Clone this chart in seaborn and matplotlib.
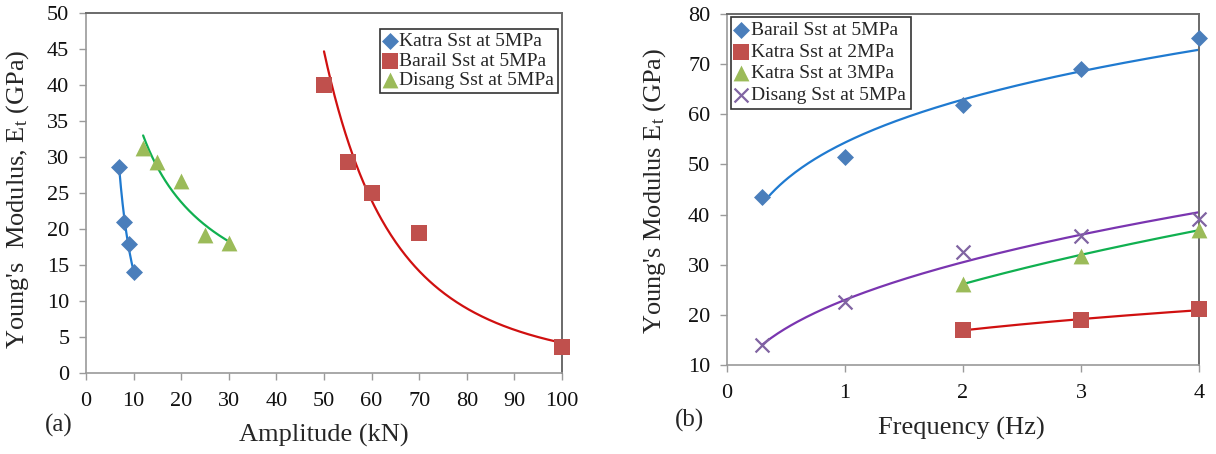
import numpy as np
import pandas as pd
import matplotlib
matplotlib.use("Agg")
import matplotlib.pyplot as plt
import seaborn as sns

# ---------------- data: panel (a) ----------------
katra5_amp = [7, 8, 9, 10]
katra5_E = [28.6, 21.0, 17.9, 14.0]
barail5_amp = [50, 55, 60, 70, 100]
barail5_E = [40.0, 29.3, 25.0, 19.4, 3.6]
disang5_amp = [12, 15, 20, 25, 30]
disang5_E = [31.2, 29.3, 26.6, 19.2, 18.0]

# ---------------- data: panel (b) ----------------
barail5_freq = [0.3, 1, 2, 3, 4]
barail5_Eb = [43.6, 51.4, 61.9, 69.0, 75.3]
katra2_freq = [2, 3, 4]
katra2_E = [17.0, 18.9, 21.1]
katra3_freq = [2, 3, 4]
katra3_E = [26.2, 31.8, 37.0]
disang5_freq = [0.3, 1, 2, 3, 4]
disang5_Eb = [14.0, 22.5, 32.5, 35.8, 39.2]

xticks_a = list(range(0, 101, 10))
yticks_a = list(range(0, 51, 5))
xticks_b = [0, 1, 2, 3, 4]
yticks_b = list(range(10, 81, 10))

sns.set_theme(style="white")
plt.rcParams["font.family"] = ["Liberation Serif", "DejaVu Serif"]
plt.rcParams["mathtext.fontset"] = "custom"
plt.rcParams["mathtext.rm"] = "Liberation Serif"
plt.rcParams["mathtext.it"] = "Liberation Serif:italic"

MK_BLUE = "#4a7ebb"
MK_RED = "#c0504d"
MK_GREEN = "#9bbb59"
MK_PURPLE = "#8064a2"
LN_BLUE = "#1f7ad0"
LN_RED = "#d01010"
LN_GREEN = "#10b050"
LN_PURPLE = "#7a35b0"


def power_trend(x, y, n=200):
    x = np.asarray(x, float)
    y = np.asarray(y, float)
    b, lna = np.polyfit(np.log(x), np.log(y), 1)
    xs = np.linspace(x.min(), x.max(), n)
    return pd.DataFrame({"x": xs, "y": np.exp(lna) * xs ** b})


fig = plt.figure(figsize=(12.16, 4.54), dpi=100)
axA = fig.add_axes([86 / 1216, 1 - 373 / 454, 476 / 1216, 360 / 454])
axB = fig.add_axes([727 / 1216, 1 - 365 / 454, 472 / 1216, 351 / 454])

# ---- panel (a) ----
for xs, ys, lc in [(katra5_amp, katra5_E, LN_BLUE),
                   (barail5_amp, barail5_E, LN_RED),
                   (disang5_amp, disang5_E, LN_GREEN)]:
    d = power_trend(xs, ys)
    sns.lineplot(data=d, x="x", y="y", ax=axA, color=lc, lw=1.6, legend=False, zorder=2)

sns.scatterplot(x=katra5_amp, y=katra5_E, ax=axA, marker="D", s=75, color=MK_BLUE,
                edgecolor=MK_BLUE, linewidth=0, label="Katra Sst at 5MPa", zorder=3, clip_on=False)
sns.scatterplot(x=barail5_amp, y=barail5_E, ax=axA, marker="s", s=120, color=MK_RED,
                edgecolor=MK_RED, linewidth=0, label="Barail Sst at 5MPa", zorder=3, clip_on=False)
sns.scatterplot(x=disang5_amp, y=disang5_E, ax=axA, marker="^", s=130, color=MK_GREEN,
                edgecolor=MK_GREEN, linewidth=0, label="Disang Sst at 5MPa", zorder=3, clip_on=False)

axA.set_xlim(0, 100)
axA.set_ylim(0, 50)
axA.set_xticks(xticks_a)
axA.set_yticks(yticks_a)
axA.set_xlabel("Amplitude (kN)", fontsize=19)
axA.set_ylabel("Young's  Modulus, E$_\\mathrm{t}$ (GPa)", fontsize=19)
axA.xaxis.label.set_va("center")
axA.yaxis.label.set_va("center")
axA.xaxis.set_label_coords(0.5, -(435 - 373) / 360)
axA.yaxis.set_label_coords((18 - 86) / 476, 1 - (199 - 13) / 360)

# ---- panel (b) ----
for xs, ys, lc in [(barail5_freq, barail5_Eb, LN_BLUE),
                   (katra2_freq, katra2_E, LN_RED),
                   (katra3_freq, katra3_E, LN_GREEN),
                   (disang5_freq, disang5_Eb, LN_PURPLE)]:
    d = power_trend(xs, ys)
    sns.lineplot(data=d, x="x", y="y", ax=axB, color=lc, lw=1.6, legend=False, zorder=2)

sns.scatterplot(x=barail5_freq, y=barail5_Eb, ax=axB, marker="D", s=75, color=MK_BLUE,
                edgecolor=MK_BLUE, linewidth=0, label="Barail Sst at 5MPa", zorder=3, clip_on=False)
sns.scatterplot(x=katra2_freq, y=katra2_E, ax=axB, marker="s", s=120, color=MK_RED,
                edgecolor=MK_RED, linewidth=0, label="Katra Sst at 2MPa", zorder=3, clip_on=False)
sns.scatterplot(x=katra3_freq, y=katra3_E, ax=axB, marker="^", s=130, color=MK_GREEN,
                edgecolor=MK_GREEN, linewidth=0, label="Katra Sst at 3MPa", zorder=3, clip_on=False)
sns.scatterplot(x=disang5_freq, y=disang5_Eb, ax=axB, marker="x", s=100, color=MK_PURPLE,
                linewidth=1.6, label="Disang Sst at 5MPa", zorder=3, clip_on=False)

axB.set_xlim(0, 4)
axB.set_ylim(10, 80)
axB.set_xticks(xticks_b)
axB.set_yticks(yticks_b)
axB.set_xlabel("Frequency (Hz)", fontsize=19)
axB.set_ylabel("Young's Modulus E$_\\mathrm{t}$ (GPa)", fontsize=19)
axB.xaxis.label.set_va("center")
axB.yaxis.label.set_va("center")
axB.xaxis.set_label_coords((961 - 727) / 472, -(428 - 365) / 351)
axB.yaxis.set_label_coords((655 - 727) / 472, 1 - (191 - 14) / 351)

# ---- common styling ----
for ax in (axA, axB):
    for side in ("left", "bottom"):
        ax.spines[side].set_color("#9a9a9a")
        ax.spines[side].set_linewidth(1.2)
    for side in ("top", "right"):
        ax.spines[side].set_color("#6a6a6a")
        ax.spines[side].set_linewidth(1.4)
        ax.spines[side].set_visible(True)
    ax.tick_params(axis="both", which="major", direction="out", length=5, width=1,
                   color="#9a9a9a", labelsize=16, labelcolor="#111111",
                   bottom=True, left=True)
    ax.tick_params(axis="x", pad=9)
    ax.tick_params(axis="y", pad=7)
    ax.grid(False)

legA = axA.legend(loc="upper right", bbox_to_anchor=(0.992, 0.956), fontsize=14,
                  frameon=True, fancybox=False, edgecolor="#333333", framealpha=1,
                  handlelength=0.6, handletextpad=0.2, borderpad=0.2,
                  labelspacing=0.1, borderaxespad=0)
legA.get_frame().set_linewidth(1.2)

legB = axB.legend(loc="upper left", bbox_to_anchor=(0.008, 0.992), fontsize=14,
                  frameon=True, fancybox=False, edgecolor="#333333", framealpha=1,
                  handlelength=0.6, handletextpad=0.2, borderpad=0.25,
                  labelspacing=0.2, borderaxespad=0)
legB.get_frame().set_linewidth(1.2)

fig.text(59 / 1216, 1 - 425 / 454, "(a)", fontsize=18, ha="center", va="center")
fig.text(689 / 1216, 1 - 420 / 454, "(b)", fontsize=18, ha="center", va="center")

fig.savefig("out.png", dpi=100)
